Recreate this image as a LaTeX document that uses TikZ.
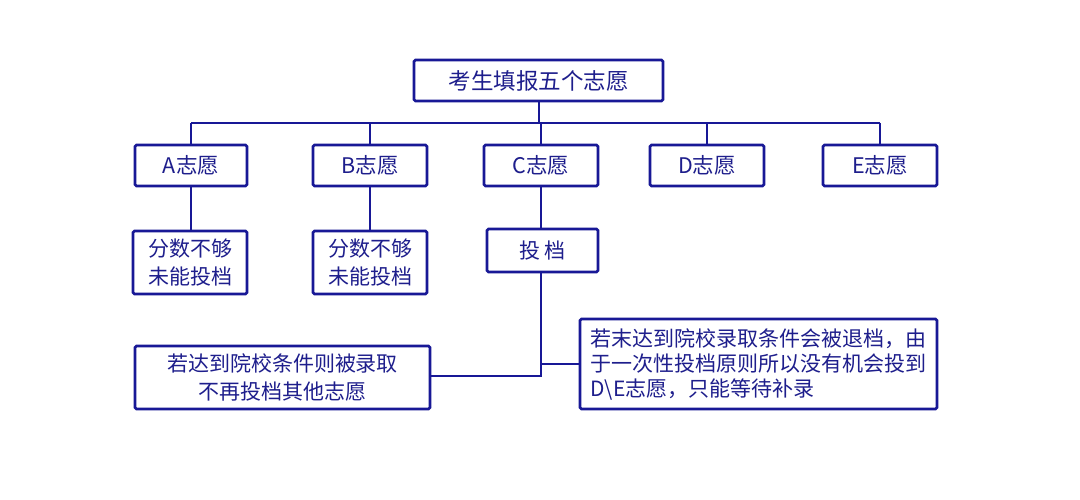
\documentclass[tikz,border=0pt]{standalone}
\usepackage{fontspec}
\setmainfont{Noto Sans CJK SC}
\definecolor{navy}{RGB}{24,24,150}
\definecolor{textblue}{RGB}{30,30,140}
\begin{document}
\begin{tikzpicture}[x=1pt,y=-1pt,
  box/.style={draw=navy, line width=2.6pt, rounded corners=1.5pt, text=textblue,
    font=\fontsize{21}{27.5}\selectfont, inner sep=0pt, align=center},
  link/.style={draw=navy, line width=2pt}]
\useasboundingbox[fill=white] (0,0) rectangle (1080,500);
\node[box, minimum width=249, minimum height=41, font=\fontsize{22.5}{27}\selectfont] (top) at (538.5,80.5) {考生填报五个志愿};
\node[box, minimum width=112, minimum height=41, font=\fontsize{21.5}{27}\selectfont] (a) at (191,165.5) {A志愿};
\node[box, minimum width=114, minimum height=41, font=\fontsize{21.5}{27}\selectfont] (b) at (370,165.5) {B志愿};
\node[box, minimum width=114, minimum height=41, font=\fontsize{21.5}{27}\selectfont] (c) at (541,165.5) {C志愿};
\node[box, minimum width=114, minimum height=41, font=\fontsize{21.5}{27}\selectfont] (d) at (707,165.5) {D志愿};
\node[box, minimum width=114, minimum height=41, font=\fontsize{21.5}{27}\selectfont] (e) at (880,165.5) {E志愿};
\node[box, minimum width=114, minimum height=63] (a2) at (190,262.5) {分数不够\\未能投档};
\node[box, minimum width=114, minimum height=63] (b2) at (370,262.5) {分数不够\\未能投档};
\node[box, minimum width=111, minimum height=43] (td) at (542.5,250.5) {投\ 档};
\node[box, minimum width=295, minimum height=63] (L) at (282.5,377.5) {若达到院校条件则被录取\\不再投档其他志愿};
\node[box, minimum width=357, minimum height=90, align=left, font=\fontsize{21}{25}\selectfont] (R) at (758.5,364)
  {若末达到院校录取条件会被退档，由\\于一次性投档原则所以没有机会投到\\D\textbackslash E志愿，只能等待补录};
\coordinate (bar) at (0,123);
\draw[link] (top.south) -- (top.south |- bar);
\draw[link] (a.north |- bar) -- (e.north |- bar);
\foreach \n in {a,b,c,d,e} \draw[link] (\n.north |- bar) -- (\n.north);
\draw[link] (a.south) -- (a.south |- a2.north);
\draw[link] (b.south) -- (b.south |- b2.north);
\draw[link] (c.south) -- (c.south |- td.north);
\coordinate (lj) at (541,376);
\draw[link] (c.south |- td.south) -- (lj) -- (L.east |- lj);
\draw[link] (c.south |- R.west) -- (R.west);
\end{tikzpicture}
\end{document}
